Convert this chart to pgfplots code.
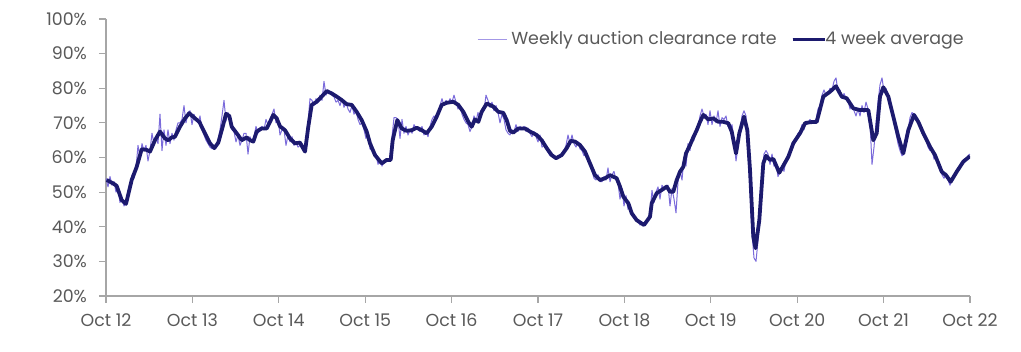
\documentclass[border=0pt]{standalone}
\usepackage{pgfplots}
\pgfplotsset{compat=1.18}
\usepackage{fontspec}
\setmainfont{Poppins}
\definecolor{navy}{HTML}{1C1A6E}
\definecolor{lilac}{HTML}{7B6BDB}
\definecolor{axgray}{HTML}{A6A6A6}
\definecolor{txtgray}{HTML}{595959}
\begin{document}
\begin{tikzpicture}
\useasboundingbox (-53pt,-28pt) rectangle (457.5pt,148pt);
\begin{axis}[
  at={(0,0)}, anchor=south west,
  scale only axis, width=432pt, height=138.5pt,
  xmin=0, xmax=864, ymin=20, ymax=100,
  axis x line*=bottom, axis y line*=left,
  axis line style={axgray, line width=0.6pt, -},
  xtick={0,86.4,172.8,259.2,345.6,432,518.4,604.8,691.2,777.6,864},
  xticklabels={Oct 12,Oct 13,Oct 14,Oct 15,Oct 16,Oct 17,Oct 18,Oct 19,Oct 20,Oct 21,Oct 22},
  ytick={20,30,...,100},
  yticklabels={20\%,30\%,40\%,50\%,60\%,70\%,80\%,90\%,100\%},
  tick style={axgray, line width=0.6pt},
  tick align=outside, major tick length=3.5pt,
  ticklabel style={font=\fontsize{8.7}{10}\selectfont, text=txtgray},
  xticklabel style={yshift=-2pt},
  yticklabel style={xshift=-2.5pt},
  legend columns=2,
  legend style={at={(rel axis cs:1,1)}, anchor=north east, xshift=-1pt, yshift=-4pt, draw=none, fill=none,
    font=\fontsize{8.7}{10}\selectfont, text=txtgray, inner sep=0pt,
    /tikz/every even column/.style={column sep=5pt}},
]
\addplot[lilac, line width=0.5pt, line join=round,
  legend image code/.code={\draw[lilac!70!white, line width=0.6pt] (0pt,0pt) -- (14.5pt,0pt);}] coordinates {
(0,54)(2,51.5)(4,54.5)(6,52)(8,53)(10,50)(12,51)(14,47)(16,48.5)(18,46)(20,47)(22,48)(24,52)(26,55)(28,54)(30,57)(32,63.5)(34,60)(36,64)(38,62)(40,63.5)(42,59)(44,62)(46,67)(48,64)(50,66)(52,64)(54,72.5)(56,62)(58,68)(60,63.5)(62,68)(64,64)(66,67)(68,65)(70,68)(72,70)(74,70)(76,71)(78,75)(80,70)(82,73)(84,73.5)(86,69.5)(88,72.5)(90,71)(92,70)(94,72)(96,68)(98,66.5)(100,65)(102,64)(104,63)(106,62.5)(108,63)(110,63.5)(112,65)(114,68)(116,72)(118,76.5)(120,70.5)(122,73)(124,70)(126,68)(128,67.5)(130,64.5)(132,66.5)(134,63.5)(136,65)(138,67)(140,67)(142,61)(144,66)(146,64.5)(148,66)(150,69)(152,67)(154,68)(156,69)(158,68)(160,71)(162,69.5)(164,71)(166,72.5)(168,74)(170,70)(172,71.5)(174,66.5)(176,68)(178,68)(180,63.5)(182,66.5)(184,64.5)(186,66)(188,63.5)(190,64.5)(192,63)(194,63.5)(196,62.5)(198,62)(200,63)(202,70)(204,77)(206,76.5)(208,75)(210,77)(212,76)(214,78)(216,76.5)(218,82)(220,78)(222,79.5)(224,78.5)(226,78)(228,77.5)(230,76)(232,76.5)(234,75)(236,77)(238,74.5)(240,76)(242,74)(244,73)(246,75)(248,72.5)(250,73.5)(252,71)(254,69.5)(256,70)(258,68)(260,65.5)(262,67)(264,62.5)(266,62)(268,60.5)(270,61)(272,58)(274,59.5)(276,57.5)(278,59)(280,59.5)(282,59)(284,60)(286,66)(288,71.5)(290,71.5)(292,71)(294,65.5)(296,71)(298,67)(300,69)(302,66.5)(304,68)(306,67)(308,69.5)(310,68.5)(312,68)(314,67.5)(316,69)(318,66.5)(320,67.5)(322,66)(324,69)(326,71)(328,72)(330,71)(332,73)(334,75)(336,77)(338,75)(340,76.5)(342,75.5)(344,77)(346,76)(348,78)(350,76)(352,74)(354,75)(356,72.5)(358,71)(360,70)(362,69.5)(364,67.5)(366,69)(368,72)(370,70.5)(372,73)(374,71)(376,74)(378,73.5)(380,78)(382,76.5)(384,74.5)(386,76)(388,73.5)(390,75)(392,73)(394,70)(396,72.5)(398,71)(400,68)(402,67)(404,66.5)(406,68)(408,67.5)(410,69.5)(412,67.5)(414,69)(416,68)(418,69)(420,67.5)(422,68.5)(424,67)(426,66)(428,67.5)(430,66)(432,64.5)(434,66.5)(436,63)(438,63.5)(440,62.5)(442,61.5)(444,60.5)(446,61)(448,60)(450,59.5)(452,60.5)(454,60.5)(456,61)(458,62)(460,63.5)(462,66.5)(464,64)(466,66.5)(468,64)(470,63)(472,64.5)(474,62.5)(476,62)(478,60.5)(480,61)(482,59)(484,57.5)(486,56)(488,54)(490,53.5)(492,55)(494,53)(496,53)(498,54.5)(500,53.5)(502,57)(504,53)(506,55)(508,56)(510,53.5)(512,52.5)(514,48)(516,51)(518,46)(520,49)(522,45)(524,46.5)(526,43.5)(528,42.5)(530,42)(532,41.5)(534,40.5)(536,41)(538,40.5)(540,41.5)(542,42)(544,44)(546,50.5)(548,47)(550,50)(552,51.5)(554,48)(556,52)(558,51)(560,51.5)(562,52)(564,46)(566,51)(568,48)(570,44)(572,53)(574,56)(576,53.5)(578,60)(580,57.5)(582,64)(584,62)(586,66)(588,65)(590,68)(592,69)(594,72)(596,74)(598,72)(600,72.5)(602,69.5)(604,73.5)(606,69.5)(608,72)(610,70)(612,73.5)(614,69)(616,71.5)(618,71)(620,72)(622,69)(624,68)(626,69.5)(628,65)(630,59)(632,63)(634,68)(636,72)(638,73.5)(640,72)(642,62)(644,51)(646,38)(648,31)(650,30)(652,36)(654,44)(656,55)(658,61)(660,62)(662,61)(664,58)(666,61)(668,57.5)(670,58)(672,54.5)(674,56)(676,57)(678,56)(680,59.5)(682,61)(684,61.5)(686,62.5)(688,64)(690,65.5)(692,67)(694,67.5)(696,69.5)(698,68)(700,70.5)(702,70)(704,71)(706,70)(708,70.5)(710,71)(712,74)(714,75)(716,78)(718,79.5)(720,78)(722,78.5)(724,80)(726,79.5)(728,82)(730,83)(732,79)(734,79.5)(736,77)(738,78.5)(740,77)(742,76.5)(744,74)(746,75.5)(748,73.5)(750,72)(752,74)(754,72)(756,75)(758,73)(760,76)(762,74)(764,70)(766,58)(768,63)(770,70)(772,76)(774,81)(776,83)(778,79)(780,80)(782,78)(784,75)(786,73)(788,70)(790,67)(792,64)(794,62)(796,60.5)(798,61)(800,64)(802,68)(804,71.5)(806,73)(808,72.5)(810,71)(812,70.5)(814,68.5)(816,67)(818,66)(820,65)(822,63)(824,62)(826,62.5)(828,59.5)(830,60)(832,58)(834,56.5)(836,55)(838,54)(840,55.5)(842,53.5)(844,52)(846,53.5)(848,55)(850,55.5)(852,57)(854,57.5)(856,58)(858,59.5)(860,59.5)(862,60.5)(864,61)
};
\addlegendentry{Weekly auction clearance rate}
\addplot[navy, line width=1.9pt, line join=round,
  legend image code/.code={\path (0pt,0pt) -- (13.5pt,0pt); \draw[navy, line width=1.6pt, overlay] (0pt,0pt) -- (16pt,0pt);}] coordinates {
(0.7,53.5)(7.3,52.5)(10.7,51.8)(15.7,47.7)(20,46.6)(25.7,53.5)(30.7,57.3)(35.7,62.4)(40.7,62.2)(44,61.7)(49,65)(54,67.5)(59,65.5)(62.3,65)(65.7,65.8)(69,66)(74,68.9)(79,71.3)(83.3,72.8)(89,71.3)(93.3,70.3)(99,67)(104,64.1)(108.3,62.7)(112.3,64.3)(116.7,68.9)(120,72.6)(123.3,72)(125.7,68.9)(130.7,67)(135.7,65)(140.7,65.8)(144,65)(147.3,64.6)(150.7,67.5)(155.7,68.4)(160.7,68.4)(164,70.3)(167.3,72.3)(170.7,71.3)(174,69)(179,67.9)(184,65.5)(189,64.1)(194,64.3)(199,61.7)(202.3,68.9)(205.7,75.2)(210.7,76.1)(215.7,77.6)(220.7,79.2)(225.7,78.5)(230.7,77.6)(235.7,76.6)(240.7,75.4)(245.7,75.2)(250.7,73.2)(255.7,70.8)(260.7,67.5)(264,64.1)(269,60.7)(275.7,58.3)(280.7,59.3)(284.7,59.3)(286.7,65)(291.3,70.8)(295.7,68.4)(300.7,67.7)(305.7,67.9)(310.7,68.6)(315.7,67.9)(320.7,67)(325.7,68.9)(330.7,71.8)(335.7,75.2)(340.7,75.8)(347.3,76.1)(352.3,75.2)(357.3,73.2)(362.3,70.3)(365.7,68.9)(369,71)(372.3,70.3)(375.7,73.2)(380.7,75.6)(387.3,74.7)(392.3,73.2)(397.3,72.9)(400.7,70.8)(404,67.7)(407.3,67.2)(412.3,68.4)(419,68.4)(424,67.5)(430.7,66.5)(435.7,65)(440.7,62.7)(445.7,60.7)(450,59.8)(455.7,60.7)(460.7,62.7)(464.7,64.8)(469,64.6)(474,63.6)(479,61.7)(484,58.3)(489,54.9)(494,53.5)(499,54)(504,54.9)(510.7,54)(514,51.6)(517.3,48.7)(522.3,46.8)(525.7,43.9)(530.7,41.9)(538,40.5)(544,42.9)(545.7,46.8)(550.7,49.7)(555.7,50.6)(560.7,51.6)(564,50.1)(567.3,50.1)(570.7,53.5)(574,55.9)(577.3,57.3)(580,61.2)(584,63.6)(587.3,65.8)(590.7,67.9)(594,70.3)(597.3,72.3)(602.3,71)(607.3,71.3)(612.3,70.3)(617.3,70.3)(622.3,69.9)(625.7,67.5)(630,61.2)(633.3,67)(638,71.8)(641.3,67.9)(644,56.4)(647.3,37.1)(649.5,33.8)(653.3,41.9)(657.3,58.3)(660,60.5)(664,59.3)(667.3,59.6)(673.3,55.6)(682.3,60.2)(687.3,64.1)(694,67)(699,69.9)(704,70.2)(710.7,70.3)(717.3,77.6)(724,79)(730,80.6)(735.7,77.6)(740.7,77.1)(747.3,74.2)(754,73.7)(762.3,73.7)(767.3,65)(770.7,67)(774,77.6)(777.3,80.3)(782.3,77.6)(787.3,71.8)(792.3,66)(797.3,61.2)(802.3,67.9)(808,72.3)(812.3,70.3)(817.3,67)(824,63.1)(829,60.7)(835.7,55.9)(840,54.9)(844.7,53)(850.7,55.9)(857.3,58.8)(864,60.4)
};
\addlegendentry{4 week average}
\end{axis}
\end{tikzpicture}
\end{document}
